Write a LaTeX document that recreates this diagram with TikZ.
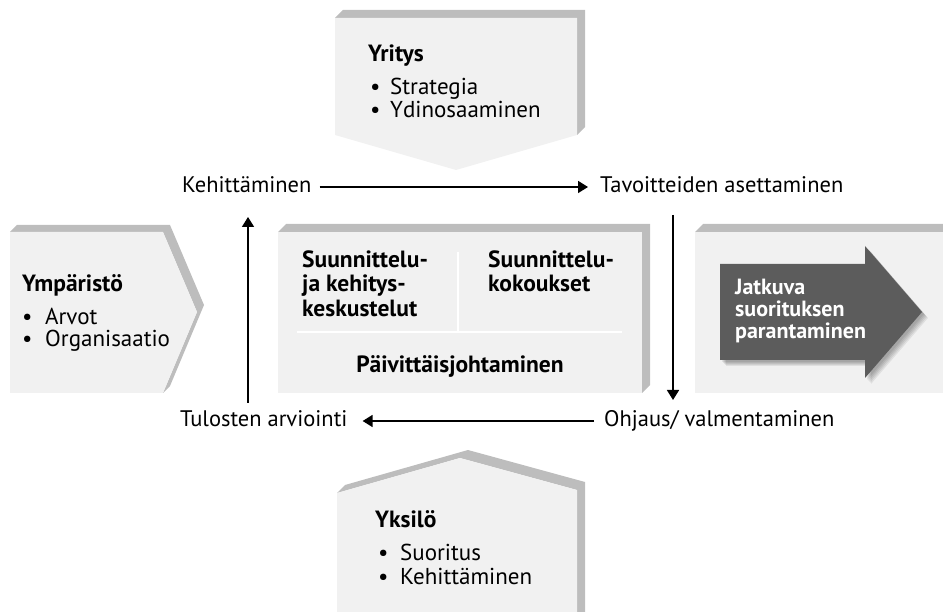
\documentclass[tikz,border=0pt]{standalone}
\usepackage{fontspec}
\setmainfont{PT Sans}
\usetikzlibrary{arrows.meta,calc}
\definecolor{facec}{HTML}{F1F1F1}
\definecolor{extc}{HTML}{BDBDBD}
\definecolor{darkc}{HTML}{5C5C5C}
\tikzset{
  lab/.style={anchor=base west, inner sep=0pt, font=\fontsize{22.5}{25}\selectfont},
  btxt/.style={anchor=base west, inner sep=0pt, font=\fontsize{23}{25}\selectfont},
  bttl/.style={anchor=base west, inner sep=0pt, font=\fontsize{23.5}{25}\selectfont\bfseries},
  wtxt/.style={anchor=base west, inner sep=0pt, text=white, font=\fontsize{22}{22}\selectfont\bfseries},
  arr/.style={line width=1.6pt, -{Triangle[length=10pt,width=12pt]}},
  divl/.style={white, line width=1.2pt},
}
\begin{document}
\begin{tikzpicture}[x=1pt,y=-1pt]
\useasboundingbox (0,0) rectangle (943,612);
\clip (0,0) rectangle (943,612);
% top box (Yritys)
\fill[extc] (335,18)--(343,10)--(585,10)--(585,127)--(577,135)--(577,18)--cycle;
\fill[facec] (335,18)--(577,18)--(577,135)--(456,170)--(335,135)--cycle;
% left box (Ymparisto)
\fill[extc] (10,232)--(17,225)--(170,225)--(204,305)--(170,386)--(163,393)--(197,312)--(163,232)--cycle;
\fill[facec] (10,232)--(163,232)--(197,312)--(163,393)--(10,393)--cycle;
% center box
\fill[extc] (278,232)--(286,224)--(650,224)--(650,385)--(642,393)--(642,232)--cycle;
\fill[facec] (278,232) rectangle (642,393);
\draw[divl] (458,252)--(458,332);
\draw[divl] (297,332)--(622,332);
% right box
\fill[extc] (695,232)--(703,224)--(950,224)--(950,232)--cycle;
\fill[facec] (695,232) rectangle (950,393);
% dark arrow with soft shadow
\foreach \d in {2,3,4,5,6}{
  \fill[black, opacity=0.07, shift={(\d,\d)}] (720,264)--(865,264)--(865,246)--(922,312)--(865,378)--(865,360)--(720,360)--cycle;
}
\fill[darkc] (720,264)--(865,264)--(865,246)--(922,312)--(865,378)--(865,360)--(720,360)--cycle;
% bottom box (Yksilo)
\fill[extc] (337,493)--(345,485)--(468,450)--(585,482)--(585,620)--(577,620)--(577,490)--(460,458)--cycle;
\fill[facec] (337,493)--(460,458)--(577,490)--(577,620)--(337,620)--cycle;

% texts in boxes
\node[bttl] (yrt) at (368,62) {Yritys};
\node[btxt] (yb1) at (370,95) {\textbullet};
\node[btxt] (yt1) at (390,95) {Strategia};
\node[btxt] (yb2) at (370,118) {\textbullet};
\node[btxt] (yt2) at (390,118) {Ydinosaaminen};

\node[bttl] (ymt) at (22,292) {Ympäristö};
\node[btxt] (mb1) at (22,325) {\textbullet};
\node[btxt] (mt1) at (45,325) {Arvot};
\node[btxt] (mb2) at (22,347) {\textbullet};
\node[btxt] (mt2) at (45,347) {Organisaatio};

\node[bttl] (c1) at (302,268) {Suunnittelu-};
\node[bttl] (c2) at (302,292) {ja kehitys-};
\node[bttl] (c3) at (302,317) {keskustelut};
\node[bttl] (c4) at (488,268) {Suunnittelu-};
\node[bttl] (c5) at (488,292) {kokoukset};
\node[bttl, anchor=base] (c6) at (460,373) {Päivittäisjohtaminen};

\node[wtxt] (w1) at (735,295) {Jatkuva};
\node[wtxt] (w2) at (735,317) {suorituksen};
\node[wtxt] (w3) at (735,339) {parantaminen};

\node[bttl] (ykt) at (375,527) {Yksilö};
\node[btxt] (kb1) at (378,560) {\textbullet};
\node[btxt] (kt1) at (400,560) {Suoritus};
\node[btxt] (kb2) at (378,584) {\textbullet};
\node[btxt] (kt2) at (400,584) {Kehittäminen};

% cycle labels
\node[lab] (keh) at (182,193) {Kehittäminen};
\node[lab] (tav) at (600,193) {Tavoitteiden asettaminen};
\node[lab] (tul) at (180,427) {Tulosten arviointi};
\node[lab] (ohj) at (604,427) {Ohjaus/ valmentaminen};

\coordinate (dtop) at (673,215);
\coordinate (dbot) at (673,400);
\coordinate (ubot) at (248,403);
\coordinate (utop) at (248,217);

\draw[arr] ($(keh.base east)+(8,-6)$) -- ($(tav.base west)+(-12,-6)$);
\draw[arr] (dtop) -- (dbot);
\draw[arr] ($(ohj.base west)+(-10,-6)$) -- ($(tul.base east)+(15,-6)$);
\draw[arr] (ubot) -- (utop);
\end{tikzpicture}
\end{document}
